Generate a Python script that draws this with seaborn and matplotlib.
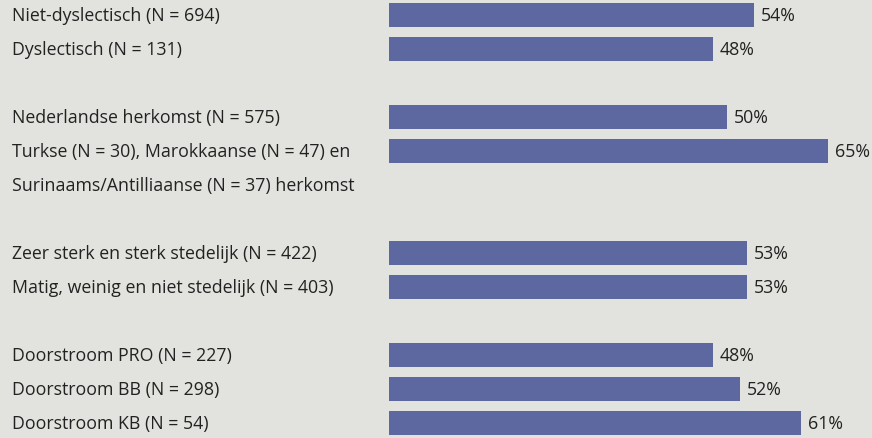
import matplotlib
matplotlib.use("Agg")
import matplotlib.pyplot as plt
import matplotlib.transforms as mtransforms
import seaborn as sns
import pandas as pd

# rows (position in the list = vertical slot, None = empty line)
labels = [
    "Niet-dyslectisch (N = 694)",
    "Dyslectisch (N = 131)",
    None,
    "Nederlandse herkomst (N = 575)",
    "Turkse (N = 30), Marokkaanse (N = 47) en",
    "Surinaams/Antilliaanse (N = 37) herkomst",
    None,
    "Zeer sterk en sterk stedelijk (N = 422)",
    "Matig, weinig en niet stedelijk (N = 403)",
    None,
    "Doorstroom PRO (N = 227)",
    "Doorstroom BB (N = 298)",
    "Doorstroom KB (N = 54)",
]
bar_rows = [0, 1, 3, 4, 7, 8, 10, 11, 12]
percentages = [54, 48, 50, 65, 53, 53, 48, 52, 61]

BG = "#e2e2de"
BAR = "#5d67a0"
TXT = "#222222"

sns.set_theme(style="white")
plt.rcParams["font.family"] = ["Open Sans", "DejaVu Sans"]

df = pd.DataFrame({"row": bar_rows, "pct": percentages})

W, H = 872, 439
fig = plt.figure(figsize=(W / 100, H / 100), dpi=100, facecolor=BG)
x0 = 389
px_per_pct = 6.75
ax = fig.add_axes([x0 / W, 0, 1 - x0 / W, 1])
ax.set_facecolor(BG)

sns.barplot(data=df, x="pct", y="row", orient="h", native_scale=True,
            color=BAR, saturation=1, width=0.735, linewidth=0, ax=ax)

ax.set_xlim(0, (W - x0) / px_per_pct)
ax.set_ylim((H - 16) / 34, -16 / 34)
ax.axis("off")

FS = 12.8
for r, p in zip(bar_rows, percentages):
    ax.text(p + 1.05, r, f"{p}%", va="center", ha="left", fontsize=FS, color=TXT)

trans = mtransforms.blended_transform_factory(fig.transFigure, ax.transData)
for i, lab in enumerate(labels):
    if lab:
        ax.text(12 / W, i, lab, transform=trans, va="center", ha="left",
                fontsize=FS, color=TXT)

fig.savefig("out.png", dpi=100, facecolor=BG)
